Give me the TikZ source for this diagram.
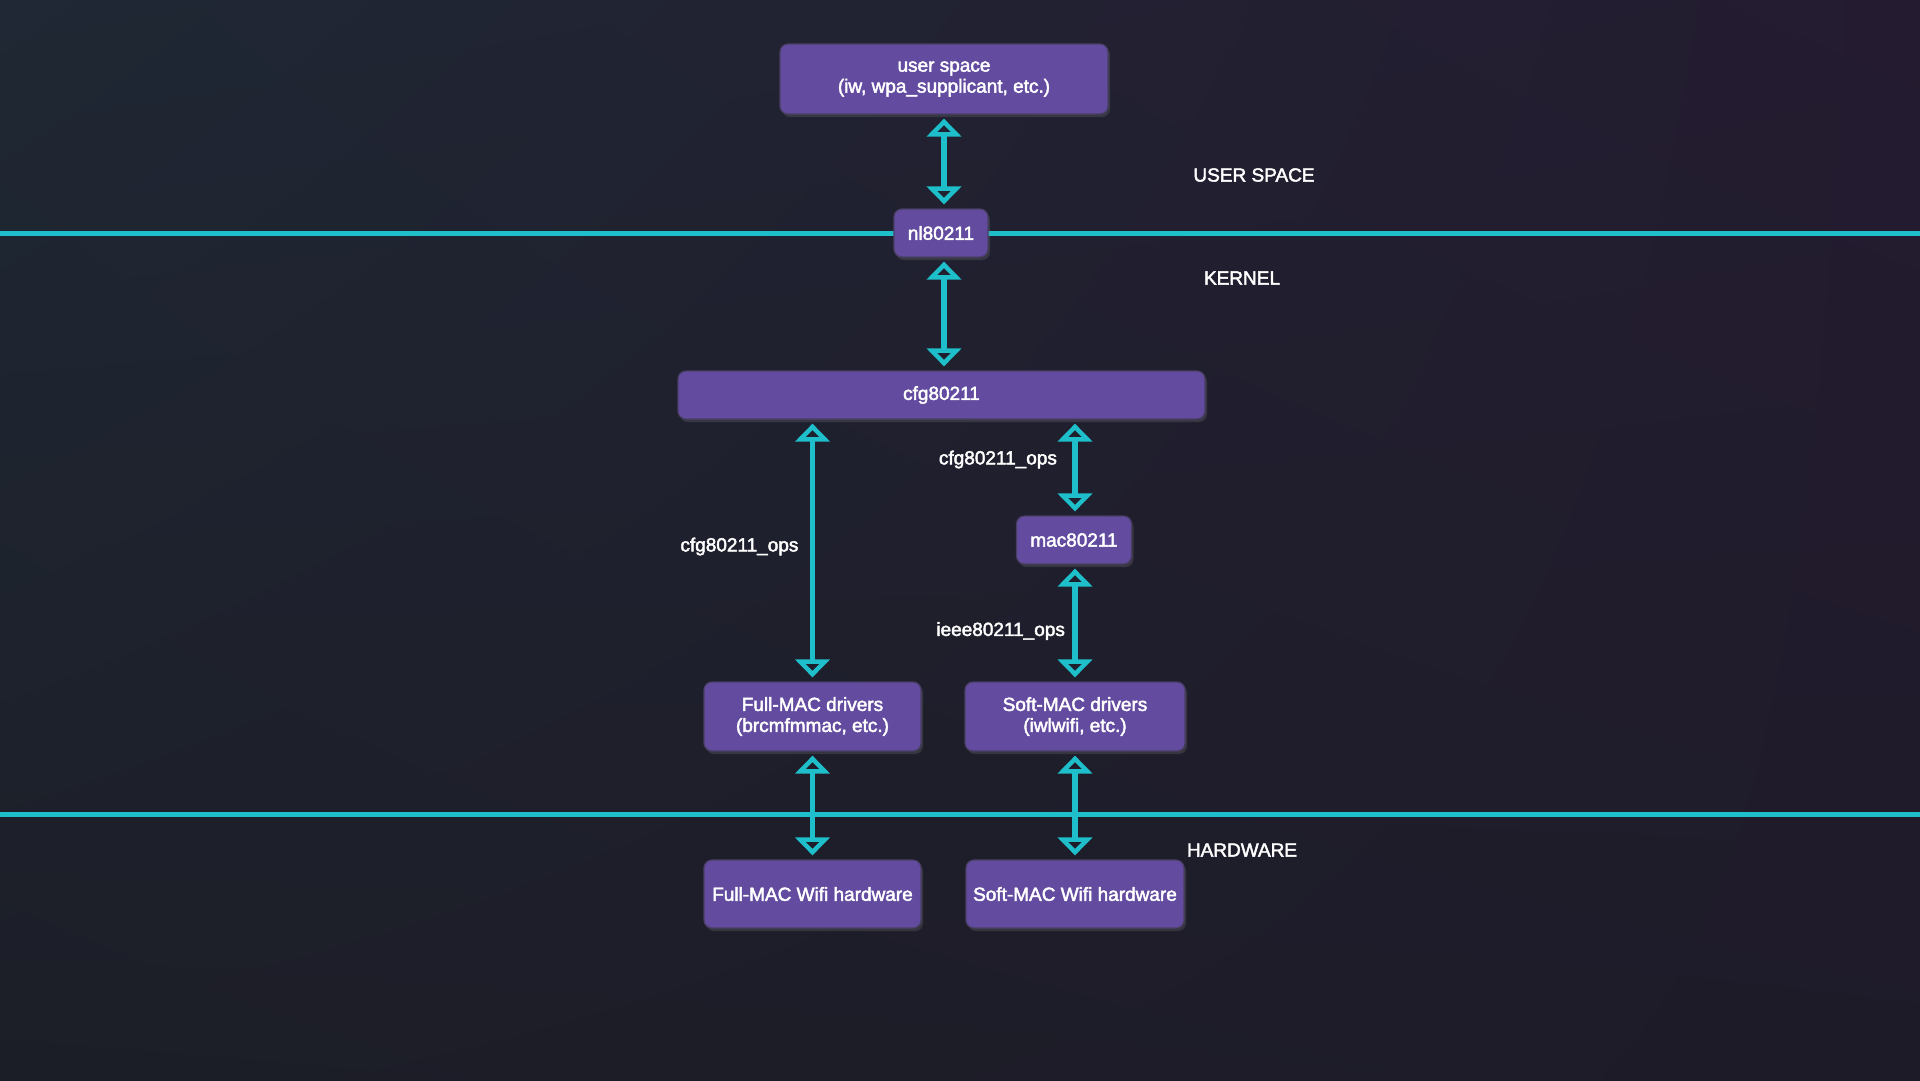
\documentclass[tikz,border=0pt]{standalone}
\usepackage{fontspec}
\setmainfont{Liberation Sans}[FakeBold=2.3]
\usetikzlibrary{arrows.meta,positioning,shadows,shadings}

\definecolor{bgTL}{HTML}{1F2834}
\definecolor{bgTR}{HTML}{241B30}
\definecolor{bgBL}{HTML}{1C1E27}
\definecolor{bgBR}{HTML}{1E1B29}
\definecolor{boxFill}{HTML}{634CA0}
\definecolor{boxEdge}{HTML}{4A3F66}
\definecolor{wifiCyan}{HTML}{1EBECA}

\tikzset{
	layerbox/.style={draw=boxEdge, line width=1.2pt, fill=boxFill, rounded corners=8pt,
		text=white, align=center, font=\fontsize{19}{21}\selectfont, inner sep=2pt,
		drop shadow={opacity=0.25, shadow xshift=2pt, shadow yshift=-3pt}},
	biarrow/.style={draw=wifiCyan, line width=5.5pt,
		{Triangle[open, length=18pt, width=34pt]}-{Triangle[open, length=18pt, width=34pt]},
		shorten <=4pt, shorten >=4pt},
	divider/.style={draw=wifiCyan, line width=5pt},
	opslabel/.style={text=white, font=\fontsize{19}{21}\selectfont},
	layerlabel/.style={text=white, font=\fontsize{19}{21}\selectfont}
}

\begin{document}
\begin{tikzpicture}[x=1pt, y=-1pt]
	\shade[upper left=bgTL, upper right=bgTR, lower left=bgBL, lower right=bgBR] (0,0) rectangle (1920,1080);
	\useasboundingbox (0,0) rectangle (1920,1080);
	
	% layer borders
	\coordinate (userL) at (0,233);
	\coordinate (userR) at (1920,233);
	\coordinate (hwL) at (0,814);
	\coordinate (hwR) at (1920,814);
	\draw[divider] (userL) -- (userR);
	\draw[divider] (hwL) -- (hwR);
	
	\node[layerlabel] (lblUser) at (1254,175) {USER SPACE};
	\node[layerlabel] (lblKernel) at (1242,278) {KERNEL};
	\node[layerlabel] (lblHw) at (1242,850) {HARDWARE};
	
	% boxes
	\node[layerbox, minimum width=328pt, minimum height=70pt] (user) at (944,79) {user space\\(iw, wpa\_supplicant, etc.)};
	\node[layerbox, minimum width=94pt, minimum height=48pt] (nl) at (941,233) {nl80211};
	\node[layerbox, minimum width=527pt, minimum height=48pt] (cfg) at (941.5,395) {cfg80211};
	\node[layerbox, minimum width=115pt, minimum height=48pt] (mac) at (1074,540) {mac80211};
	\node[layerbox, minimum width=217pt, minimum height=69pt] (fulldrv) at (812.5,716.5) {Full-MAC drivers\\(brcmfmmac, etc.)};
	\node[layerbox, minimum width=220pt, minimum height=69pt] (softdrv) at (1075,716.5) {Soft-MAC drivers\\(iwlwifi, etc.)};
	\node[layerbox, minimum width=217pt, minimum height=68pt] (fullhw) at (812.5,894) {Full-MAC Wifi hardware};
	\node[layerbox, minimum width=218pt, minimum height=68pt] (softhw) at (1075,894) {Soft-MAC Wifi hardware};
	
	% links
	\draw[biarrow] (user.south) -- (user.south |- nl.north);
	\draw[biarrow] (user.south |- nl.south) -- (user.south |- cfg.north);
	\draw[biarrow] (fulldrv.north |- cfg.south) -- node[opslabel, left=8pt, yshift=4pt] (opsFull) {cfg80211\_ops} (fulldrv.north);
	\draw[biarrow] (softdrv.north |- cfg.south) -- node[opslabel, left=12pt, yshift=8pt] (opsSoft) {cfg80211\_ops} (softdrv.north |- mac.north);
	\draw[biarrow] (softdrv.north |- mac.south) -- node[opslabel, left=4pt, yshift=-8pt] (opsIeee) {ieee80211\_ops} (softdrv.north);
	\draw[biarrow] (fulldrv.south) -- (fullhw.north);
	\draw[biarrow] (softdrv.south) -- (softhw.north);
\end{tikzpicture}
\end{document}
